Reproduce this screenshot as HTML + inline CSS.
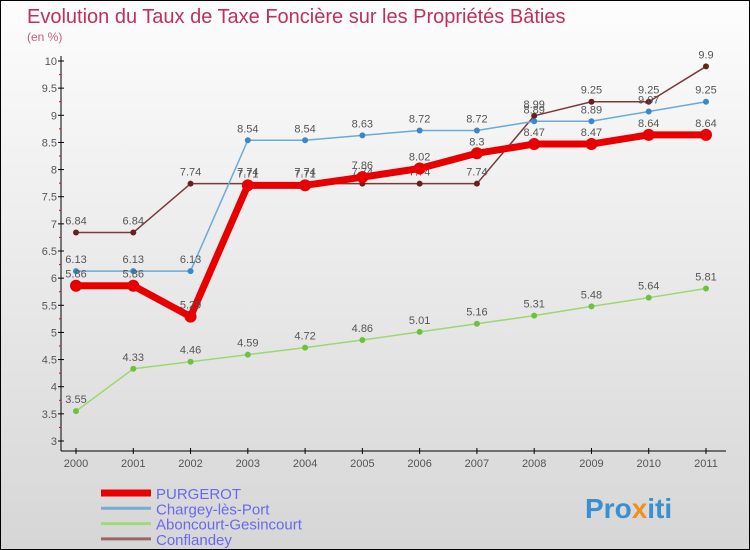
<!DOCTYPE html>
<html><head><meta charset="utf-8"><style>
body{margin:0}
#c{width:750px;height:550px;position:relative;background:linear-gradient(#fdfdfd,#d6d6d6);border:1px solid #000;box-sizing:border-box;overflow:hidden;font-family:"Liberation Sans",sans-serif}
</style></head><body>
<div id="c">
<svg id="s" width="750" height="550" style="position:absolute;left:0;top:0">
<text x="26" y="22" font-size="20" fill="#c0305a">Evolution du Taux de Taxe Foncière sur les Propriétés Bâties</text>
<text x="26" y="40" font-size="12" fill="#c06080">(en %)</text>
<g id="axes"></g><g id="series"></g><g id="legend"></g>
<text x="584" y="517" font-size="28" font-weight="bold" fill="#3a8fd0">Pro<tspan fill="#f09020">x</tspan>iti</text>
</svg>
</div>
<script>
const years=[2000,2001,2002,2003,2004,2005,2006,2007,2008,2009,2010,2011];
const yTicks=[3,3.5,4,4.5,5,5.5,6,6.5,7,7.5,8,8.5,9,9.5,10];
const purgerot=[5.86,5.86,5.29,7.71,7.71,7.86,8.02,8.3,8.47,8.47,8.64,8.64];
const chargey=[6.13,6.13,6.13,8.54,8.54,8.63,8.72,8.72,8.89,8.89,9.07,9.25];
const aboncourt=[3.55,4.33,4.46,4.59,4.72,4.86,5.01,5.16,5.31,5.48,5.64,5.81];
const conflandey=[6.84,6.84,7.74,7.74,7.74,7.74,7.74,7.74,8.99,9.25,9.25,9.9];
const seriesNames=["PURGEROT","Chargey-lès-Port","Aboncourt-Gesincourt","Conflandey"];
const NS="http://www.w3.org/2000/svg";
const X=i=>75+i*(630/11);
const Y=v=>440-(v-3)*(380/7);
function mk(p,t,a){const e=document.createElementNS(NS,t);for(const k in a)e.setAttribute(k,a[k]);p.appendChild(e);return e;}
const ax=document.getElementById('axes');
let e=mk(ax,'line',{x1:60,y1:55,x2:60,y2:450,stroke:'#000'});


e=mk(ax,'line',{x1:60,y1:450,x2:725,y2:450,stroke:'#000'});


yTicks.forEach(v=>{
 mk(ax,'line',{x1:57,y1:Y(v),x2:63,y2:Y(v),stroke:'#000'});
 if(v<10)mk(ax,'line',{x1:58,y1:Y(v+0.25),x2:60,y2:Y(v+0.25),stroke:'#e00'});
 const t=mk(ax,'text',{x:56,y:Y(v)+4,'font-size':11,fill:'#555','text-anchor':'end'});
 t.textContent=v;
 
 
});
years.forEach((y,i)=>{
 mk(ax,'line',{x1:X(i),y1:447,x2:X(i),y2:453,stroke:'#000'});
 const t=mk(ax,'text',{x:X(i),y:466,'font-size':11,fill:'#555','text-anchor':'middle'});
 t.textContent=y;
 
 
});
const sg=document.getElementById('series');
const defs=[
 [conflandey,'#7a3a3a','#6a2020',1.5,3,'conflandey'],
 [aboncourt,'#9cd870','#70c040',1.5,3,'aboncourt-gesincourt'],
 [chargey,'#6aaad8','#3a88c8',1.5,3,'chargey-les-port'],
 [purgerot,'#e80000','#e80000',7,6,'purgerot']];
defs.forEach(([d,c,mc,w,r,n])=>{
 const l=mk(sg,'polyline',{points:d.map((v,i)=>X(i)+','+Y(v)).join(' '),fill:'none',stroke:c,'stroke-width':w,'stroke-linejoin':'round'});
 
 
 d.forEach((v,i)=>{
  const p=mk(sg,'circle',{cx:X(i),cy:Y(v),r:r,fill:mc});
  
  
  const t=mk(sg,'text',{x:X(i),y:Y(v)-8,'font-size':11,fill:'#555','text-anchor':'middle'});
  t.textContent=v;
  
  
 });
});
const lg=document.getElementById('legend');
const lc=['#e80000','#7aaad0','#a0d880','#986868'],lw=[7,3,3,3];
seriesNames.forEach((nm,i)=>{
 const y=492+i*15.3;
 const l=mk(lg,'line',{x1:100,y1:y,x2:150,y2:y,stroke:lc[i],'stroke-width':lw[i]});
 
 
 const t=mk(lg,'text',{x:155,y:y+6,'font-size':15,fill:'#6868f0'});
 t.textContent=nm;
 
 
});
</script>
</body></html>
